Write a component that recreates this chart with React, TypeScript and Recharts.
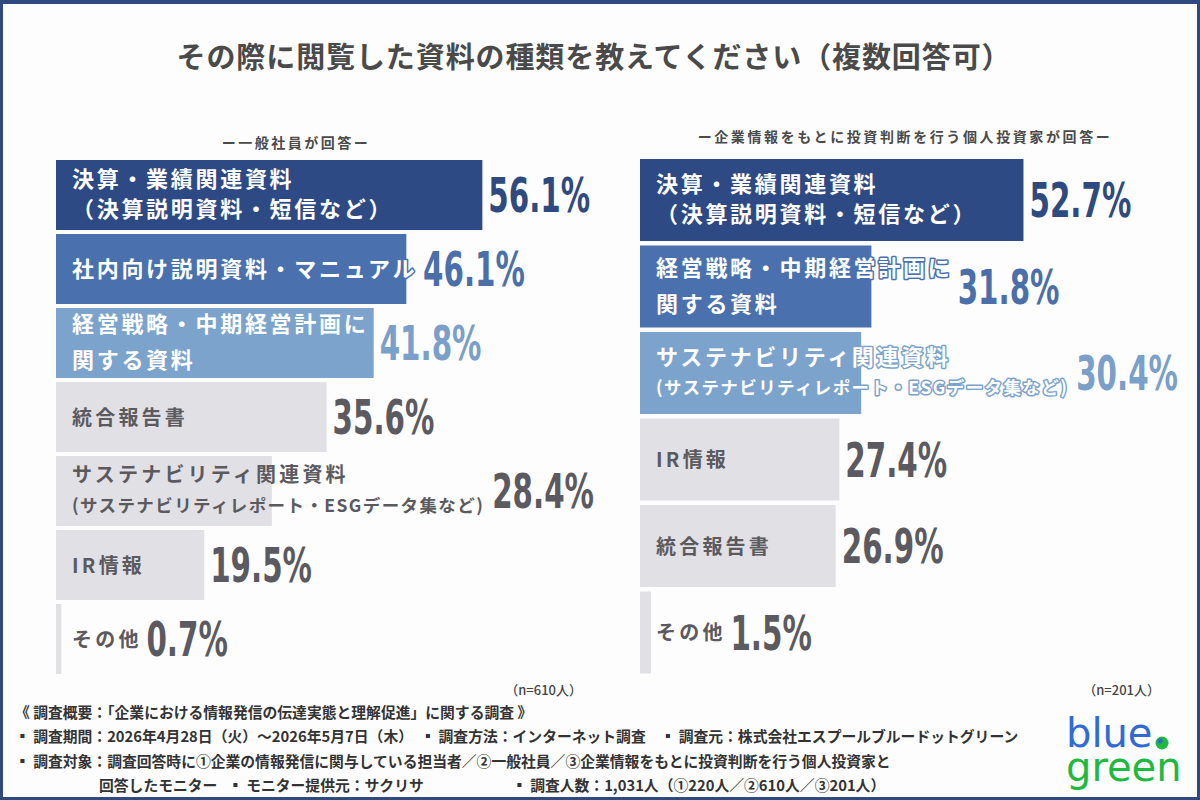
import React from 'react';
import { BarChart, Bar, XAxis, YAxis } from 'recharts';

// ---- data -------------------------------------------------------------
const employeeItems = [
  '決算・業績関連資料\n（決算説明資料・短信など）',
  '社内向け説明資料・マニュアル',
  '経営戦略・中期経営計画に\n関する資料',
  '統合報告書',
  'サステナビリティ関連資料\n(サステナビリティレポート・ESGデータ集など)',
  'IR情報',
  'その他',
];
const employeeRates = [56.1, 46.1, 41.8, 35.6, 28.4, 19.5, 0.7];

const investorItems = [
  '決算・業績関連資料\n（決算説明資料・短信など）',
  '経営戦略・中期経営計画に\n関する資料',
  'サステナビリティ関連資料\n(サステナビリティレポート・ESGデータ集など)',
  'IR情報',
  '統合報告書',
  'その他',
];
const investorRates = [52.7, 31.8, 30.4, 27.4, 26.9, 1.5];

const panelTitles = ['ー一般社員が回答ー', 'ー企業情報をもとに投資判断を行う個人投資家が回答ー'];
const sampleSizes = ['（n=610人）', '（n=201人）'];

// ---- styles -----------------------------------------------------------
const JP = "'Noto Sans CJK JP', 'Noto Sans', sans-serif";
const NUM = "'DejaVu Sans Condensed', 'DejaVu Sans', sans-serif";

const RANK_STYLES = [
  { bar: '#2d4a84', value: '#2e4a7f', text: '#ffffff' },
  { bar: '#4a71ad', value: '#4a6fa9', text: '#ffffff' },
  { bar: '#7ca3cc', value: '#7a9fc8', text: '#ffffff' },
];
const PLAIN_STYLE = { bar: '#e1e0e5', value: '#5b5a60', text: '#5b5a5f' };

// vertical gap between the two lines of a wrapped label
const LINE_GAP: Record<string, number> = {
  '決算・業績関連資料': 30,
  '経営戦略・中期経営計画に': 36,
  'サステナビリティ関連資料': 31,
};

let measureCtx: CanvasRenderingContext2D | null = null;
function textWidth(text: string, size: number, spacing: number): number {
  if (!measureCtx) measureCtx = document.createElement('canvas').getContext('2d');
  if (!measureCtx) return text.length * size;
  measureCtx.font = `700 ${size}px ${JP}`;
  return measureCtx.measureText(text).width + spacing * text.length - spacing;
}

const VALUE_SIZE = 48;
const VALUE_SQUEEZE = 0.68;

function RowShape(props: any) {
  const { x, y, width, height, index, payload } = props;
  const st = index < 3 ? RANK_STYLES[index] : PLAIN_STYLE;
  const colored = index < 3;
  const cy = y + height / 2;
  const tx = x + 16;
  const lines: string[] = String(payload.name).split('\n');
  const mainSize = colored ? 22 : 20;
  const mainSpacing = colored ? 2.7 : 3.2;

  const lineSpecs = lines.map((line, i) => {
    const small = line.startsWith('(');
    const size = small ? 17.5 : mainSize;
    const spacing = small ? 1.4 : mainSpacing;
    return { line, size, spacing, w: textWidth(line, size, spacing), i };
  });
  const gap = lines.length > 1 ? LINE_GAP[lines[0]] ?? 28 : 0;
  const centers = lines.length > 1 ? [cy - 1 - gap / 2, cy - 1 + gap / 2] : [cy];
  const labelEnd = tx + Math.max(...lineSpecs.map((s) => s.w));
  const valueX = Math.max(x + width + 6, labelEnd + 8);
  const valueText = `${payload.rate}%`;

  return (
    <g>
      <rect x={x} y={y} width={width} height={height} fill={st.bar} />
      {lineSpecs.map((s) => (
        <text
          key={s.i}
          x={tx}
          y={centers[s.i] + s.size * 0.385}
          fontFamily={JP}
          fontWeight={700}
          fontSize={s.size}
          letterSpacing={s.spacing}
          fill={st.text}
          stroke={colored ? st.bar : 'none'}
          strokeWidth={colored ? 3 : 0}
          strokeLinejoin="round"
          paintOrder="stroke"
        >
          {s.line}
        </text>
      ))}
      <text
        x={valueX}
        y={cy + 17.5}
        fontFamily={NUM}
        fontWeight={700}
        fontSize={VALUE_SIZE}
        fill={st.value}
        transform={`translate(${valueX} 0) scale(${VALUE_SQUEEZE} 1) translate(${-valueX} 0)`}
      >
        {valueText}
      </text>
    </g>
  );
}

type PanelProps = {
  items: string[];
  rates: number[];
  width: number;
  height: number;
  barSize: number;
  maxRate: number;
};

function Panel({ items, rates, width, height, barSize, maxRate }: PanelProps) {
  const data = items.map((name, i) => ({ name, rate: rates[i] }));
  return (
    <BarChart
      layout="vertical"
      width={width}
      height={height}
      data={data}
      margin={{ top: 0, right: 0, bottom: 0, left: 0 }}
    >
      <XAxis type="number" dataKey="rate" domain={[0, maxRate]} hide />
      <YAxis type="category" dataKey="name" hide />
      <Bar dataKey="rate" barSize={barSize} isAnimationActive={false} shape={RowShape} />
    </BarChart>
  );
}

const footerLines = [
  '《 調査概要：「企業における情報発信の伝達実態と理解促進」に関する調査 》',
  '▪ 調査期間：2026年4月28日（火）〜2026年5月7日（木）　▪ 調査方法：インターネット調査　▪ 調査元：株式会社エスプールブルードットグリーン',
  '▪ 調査対象：調査回答時に①企業の情報発信に関与している担当者／②一般社員／③企業情報をもとに投資判断を行う個人投資家と',
];
const footerLast = ['回答したモニター', '▪ モニター提供元：サクリサ', '▪ 調査人数：1,031人（①220人／②610人／③201人）'];
const FOOT_SIZE = 14.8;

export default function App() {
  return (
    <div
      style={{
        position: 'absolute',
        left: 0,
        top: 0,
        width: 1200,
        height: 800,
        background: '#fdfdfe',
        overflow: 'hidden',
      }}
    >
      <svg width={1200} height={800} style={{ position: 'absolute', left: 0, top: 0 }}>
        <text x={594} y={68} textAnchor="middle" fontFamily={JP} fontWeight={700} fontSize={29} letterSpacing={0.9} fill="#4a4a4a">
          その際に閲覧した資料の種類を教えてください（複数回答可）
        </text>
        <text x={296} y={148} textAnchor="middle" fontFamily={JP} fontWeight={700} fontSize={14} letterSpacing={2.5} fill="#4a4a4a">
          {panelTitles[0]}
        </text>
        <text x={905} y={142} textAnchor="middle" fontFamily={JP} fontWeight={700} fontSize={14} letterSpacing={2.6} fill="#4a4a4a">
          {panelTitles[1]}
        </text>
        <text x={582} y={695} textAnchor="end" fontFamily={JP} fontWeight={500} fontSize={13} fill="#444">
          {sampleSizes[0]}
        </text>
        <text x={1160} y={695} textAnchor="end" fontFamily={JP} fontWeight={500} fontSize={13} fill="#444">
          {sampleSizes[1]}
        </text>
        {footerLines.map((t, i) => (
          <text key={i} x={15} y={718 + i * 24.3} fontFamily={JP} fontWeight={700} fontSize={FOOT_SIZE} fill="#333">
            {t}
          </text>
        ))}
        <text x={99} y={791} fontFamily={JP} fontWeight={700} fontSize={FOOT_SIZE} fill="#333">{footerLast[0]}</text>
        <text x={228} y={791} fontFamily={JP} fontWeight={700} fontSize={FOOT_SIZE} fill="#333">{footerLast[1]}</text>
        <text x={512} y={791} fontFamily={JP} fontWeight={700} fontSize={FOOT_SIZE} fill="#333">{footerLast[2]}</text>

        {/* logo: two stacked words in one text block */}
        <text fontFamily="'DejaVu Sans', sans-serif" fontSize={40}>
          <tspan x={1066} y={747} fill="#2f6bd3">blue</tspan>
          <tspan x={1066} y={781} fill="#1db940">green</tspan>
        </text>
        <circle cx={1162} cy={743} r={6.5} fill="#1db940" />
        <circle cx={1160} cy={741} r={2.5} fill="#2f6bd3" />
      </svg>

      <div style={{ position: 'absolute', left: 56, top: 158 }}>
        <Panel items={employeeItems} rates={employeeRates} width={570} height={518} barSize={70} maxRate={75} />
      </div>
      <div style={{ position: 'absolute', left: 640, top: 157 }}>
        <Panel items={investorItems} rates={investorRates} width={553} height={519} barSize={82} maxRate={76} />
      </div>

      <div
        style={{
          position: 'absolute',
          left: 0,
          top: 0,
          width: 1200,
          height: 800,
          boxSizing: 'border-box',
          borderStyle: 'solid',
          borderColor: '#2e4a7e',
          borderWidth: '4px 3px 3px 3px',
          pointerEvents: 'none',
        }}
      />
    </div>
  );
}
